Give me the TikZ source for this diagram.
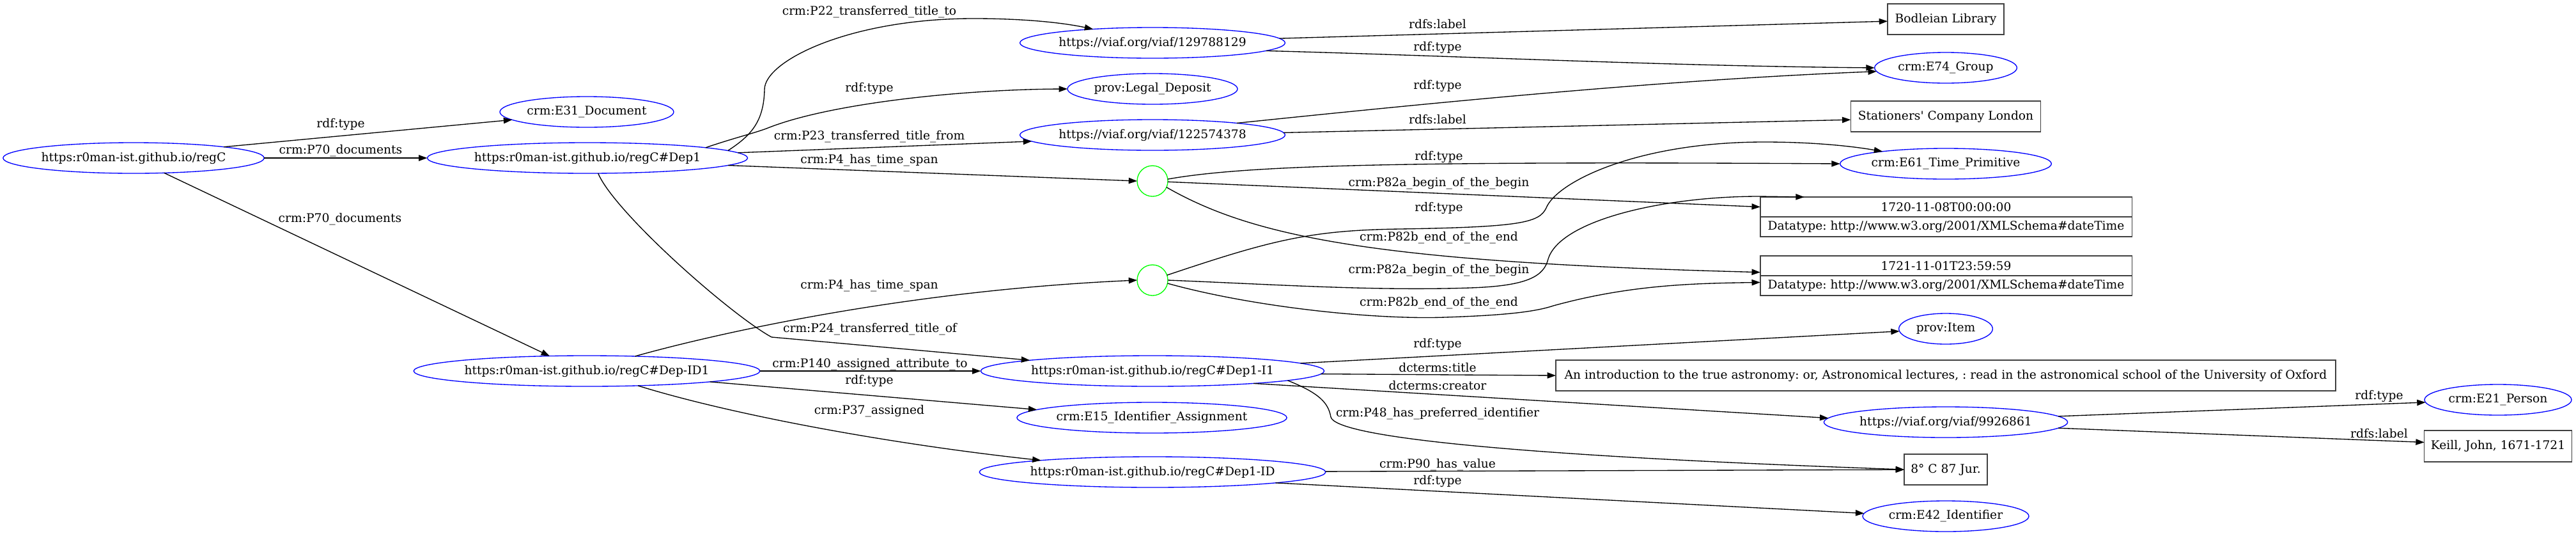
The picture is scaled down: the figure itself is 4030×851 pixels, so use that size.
\documentclass[tikz,border=0pt]{standalone}
\usepackage{fontspec}
\setmainfont{DejaVu Serif}[Ligatures=TeXOff]
\usetikzlibrary{arrows.meta,shapes.geometric}
\begin{document}
\begin{tikzpicture}[x=0.75pt,y=-0.75pt,
  every node/.style={font=\fontsize{14pt}{17pt}\selectfont\frenchspacing, inner sep=0pt, outer sep=0pt},
  res/.style={ellipse, draw=blue, line width=1pt, minimum height=36pt},
  blank/.style={circle, draw=green, line width=1pt, minimum size=36pt},
  lit/.style={rectangle, draw=black!75, line width=1pt, minimum height=36pt},
  cell/.style={rectangle, draw=black!75, line width=1pt, minimum height=23.25pt, minimum width=436pt},
  lbl/.style={},
  edge/.style={draw=black, line width=1pt, -{Triangle[length=10pt,width=7pt]}}]
\useasboundingbox (0,0) rectangle (4030,851);
% resource nodes
\node[res, minimum width=306pt] (regC) at (209,247) {https:r0man-ist.github.io/regC};
\node[res, minimum width=204pt] (E31) at (918,175) {crm:E31\_Document};
\node[res, minimum width=369pt] (Dep1) at (919,247) {https:r0man-ist.github.io/regC\#Dep1};
\node[res, minimum width=310.5pt] (viaf129) at (1803,67) {https://viaf.org/viaf/129788129};
\node[res, minimum width=199.5pt] (legal) at (1803,139) {prov:Legal\_Deposit};
\node[res, minimum width=310.5pt] (viaf122) at (1803,211) {https://viaf.org/viaf/122574378};
\node[blank] (g1) at (1803,283) {};
\node[blank] (g2) at (1803,438) {};
\node[res, minimum width=396pt] (DepID1) at (918,580) {https:r0man-ist.github.io/regC\#Dep-ID1};
\node[res, minimum width=394pt] (I1) at (1803,580) {https:r0man-ist.github.io/regC\#Dep1-I1};
\node[res, minimum width=313.5pt] (E15) at (1802,653) {crm:E15\_Identifier\_Assignment};
\node[res, minimum width=397pt] (D1ID) at (1803,738) {https:r0man-ist.github.io/regC\#Dep1-ID};
\node[lit, minimum width=136.5pt] (Bodleian) at (3044,30) {Bodleian Library};
\node[res, minimum width=167pt] (E74) at (3044,106) {crm:E74\_Group};
\node[lit, minimum width=223pt] (Stationers) at (3044,182) {Stationers' Company London};
\node[res, minimum width=248pt] (E61) at (3044,256) {crm:E61\_Time\_Primitive};
\node[cell] (d1a) at (3044.5,323.5) {1720-11-08T00:00:00};
\node[cell] (d1b) at (3044.5,354.5) {Datatype: http://www.w3.org/2001/XMLSchema\#dateTime};
\node[cell] (d2a) at (3044.5,415.5) {1721-11-01T23:59:59};
\node[cell] (d2b) at (3044.5,446.5) {Datatype: http://www.w3.org/2001/XMLSchema\#dateTime};
\node[res, minimum width=110pt] (Item) at (3044,514) {prov:Item};
\node[lit, minimum width=915pt] (title) at (3044,587) {An introduction to the true astronomy: or, Astronomical lectures, : read in the astronomical school of the University of Oxford};
\node[res, minimum width=285pt] (viaf99) at (3044,660) {https://viaf.org/viaf/9926861};
\node[res, minimum width=172.5pt] (E21) at (3908,625) {crm:E21\_Person};
\node[lit, minimum width=173pt, minimum height=36.75pt] (Keill) at (3908,697.5) {Keill, John, 1671-1721};
\node[lit, minimum width=97.5pt] (box8) at (3044,734) {8° C 87 Jur.};
\node[res, minimum width=195pt] (E42) at (3044,807) {crm:E42\_Identifier};
% edges
\draw[edge] (regC.7) -- (E31.186);
\draw[edge] (regC) -- (Dep1);
\draw[edge] (regC.-26) -- (DepID1.158);
\draw[edge] (Dep1.3) .. controls (1175,212) and (1195,190) .. (1196,140) .. controls (1196,95) and (1330,29) .. (1523,29) .. controls (1600,29) and (1660,35) .. (viaf129.167);
\draw[edge] (Dep1.5) .. controls (1150,215) and (1185,207) .. (1204,199) .. controls (1300,162) and (1500,140) .. (legal.west);
\draw[edge] (Dep1.2) -- (viaf122.183);
\draw[edge] (Dep1.-3) -- (g1.west);
\draw[edge] (Dep1.-55) .. controls (960,330) and (1140,490) .. (1207,527) -- (I1.175);
\draw[edge] (DepID1.17) .. controls (1100,527) and (1400,455) .. (g2.west);
\draw[edge] (DepID1) -- (I1);
\draw[edge] (DepID1.-5) -- (E15.176);
\draw[edge] (DepID1.-16) .. controls (1150,650) and (1400,695) .. (D1ID.174);
\draw[edge] (g1.7) .. controls (1950,258) and (2200,252) .. (E61.west);
\draw[edge] (g1.-3) -- (d1a.west);
\draw[edge] (g1.-24) .. controls (1960,370) and (2150,410) .. (d2a.182);
\draw[edge] (g2.19) .. controls (1990,375) and (2050,360) .. (2190,358) .. controls (2380,355) and (2408,348) .. (2419,325) .. controls (2435,285) and (2560,222) .. (2760,222) .. controls (2840,222) and (2900,229) .. (E61.169);
\draw[edge] (g2.east) .. controls (2000,445) and (2150,455) .. (2300,450) .. controls (2390,447) and (2415,432) .. (2422,405) .. controls (2440,345) and (2600,307) .. (2752,307) -- (d1a.176);
\draw[edge] (g2.-12) .. controls (1960,480) and (2150,500) .. (2261,496) .. controls (2350,493) and (2400,488) .. (2430,478) .. controls (2550,445) and (2650,443) .. (d2b.179);
\draw[edge] (viaf129.2) -- (Bodleian.182);
\draw[edge] (viaf129.-4) .. controls (2300,88) and (2600,103) .. (E74.west);
\draw[edge] (viaf122.8) .. controls (2250,160) and (2600,125) .. (E74.183);
\draw[edge] (viaf122.1) -- (Stationers.182);
\draw[edge] (I1.3) -- (Item.183);
\draw[edge] (I1.-1) -- (title.west);
\draw[edge] (I1.-7) -- (viaf99.178);
\draw[edge] (I1.-4) .. controls (2065,615) and (2078,630) .. (2082,652) .. controls (2090,682) and (2350,712) .. (box8.west);
\draw[edge] (D1ID) -- (box8);
\draw[edge] (D1ID.-5) -- (E42.178);
\draw[edge] (viaf99.3) -- (E21.182);
\draw[edge] (viaf99.-3) -- (Keill.177);
% edge labels
\node[lbl] (l1) at (533,194) {rdf:type};
\node[lbl] (l2) at (533,236) {crm:P70\_documents};
\node[lbl] (l3) at (532,343) {crm:P70\_documents};
\node[lbl] (l4) at (1360,19) {crm:P22\_transferred\_title\_to};
\node[lbl] (l5) at (1360,138) {rdf:type};
\node[lbl] (l6) at (1360,214) {crm:P23\_transferred\_title\_from};
\node[lbl] (l7) at (1360,251) {crm:P4\_has\_time\_span};
\node[lbl] (l8) at (1361,515) {crm:P24\_transferred\_title\_of};
\node[lbl] (l9) at (1360,447) {crm:P4\_has\_time\_span};
\node[lbl] (l10) at (1361,570) {crm:P140\_assigned\_attribute\_to};
\node[lbl] (l11) at (1360,595) {rdf:type};
\node[lbl] (l12) at (1360,643) {crm:P37\_assigned};
\node[lbl] (l13) at (2251,245) {rdf:type};
\node[lbl] (l14) at (2251,287) {crm:P82a\_begin\_of\_the\_begin};
\node[lbl] (l15) at (2251,372) {crm:P82b\_end\_of\_the\_end};
\node[lbl] (l16) at (2251,325) {rdf:type};
\node[lbl] (l17) at (2251,423) {crm:P82a\_begin\_of\_the\_begin};
\node[lbl] (l18) at (2251,474) {crm:P82b\_end\_of\_the\_end};
\node[lbl] (l19) at (2249,38) {rdfs:label};
\node[lbl] (l20) at (2249,74) {rdf:type};
\node[lbl] (l21) at (2249,134) {rdf:type};
\node[lbl] (l22) at (2249,187) {rdfs:label};
\node[lbl] (l23) at (2249,538) {rdf:type};
\node[lbl] (l24) at (2249,575) {dcterms:title};
\node[lbl] (l25) at (2249,603) {dcterms:creator};
\node[lbl] (l26) at (2249,647) {crm:P48\_has\_preferred\_identifier};
\node[lbl] (l27) at (2249,727) {crm:P90\_has\_value};
\node[lbl] (l28) at (2249,752) {rdf:type};
\node[lbl] (l29) at (3722,619) {rdf:type};
\node[lbl] (l30) at (3722,678) {rdfs:label};
\end{tikzpicture}
\end{document}
